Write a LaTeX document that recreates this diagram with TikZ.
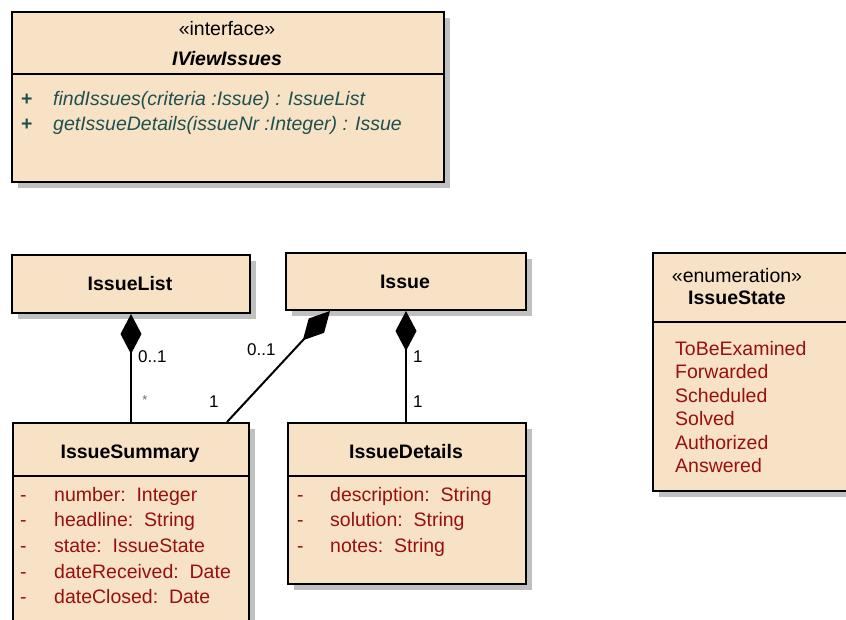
\documentclass[tikz,border=0pt]{standalone}
\usepackage{fontspec}
\setmainfont{Liberation Sans}
\usetikzlibrary{arrows.meta,shadows}
\definecolor{boxfill}{RGB}{248,226,198}
\definecolor{shadowgray}{RGB}{192,192,192}
\definecolor{attrred}{RGB}{150,16,16}
\definecolor{opteal}{RGB}{30,80,80}
\definecolor{stargray}{RGB}{110,110,110}
\tikzset{
  umlbox/.style={draw=black, line width=2pt, fill=boxfill, rectangle, anchor=north west, inner sep=0pt,
    drop shadow={shadow xshift=6pt, shadow yshift=-6pt, fill=shadowgray, opacity=1}},
  divider/.style={draw=black, line width=2pt},
  txt/.style={inner sep=0pt, font=\fontsize{19.5}{23}\selectfont},
  cname/.style={txt, anchor=base, font=\fontsize{19.5}{23}\selectfont\bfseries},
  stereo/.style={txt, anchor=base},
  attr/.style={txt, anchor=base west, text=attrred},
  oper/.style={txt, anchor=base west, text=opteal, font=\fontsize{19.5}{23}\selectfont\itshape},
  opvis/.style={txt, anchor=base west, text=opteal, font=\fontsize{19.5}{23}\selectfont\bfseries},
  mult/.style={inner sep=0pt, anchor=base west, font=\fontsize{17}{20}\selectfont},
  comp/.style={line width=2pt, {Diamond[length=40pt,width=21pt,fill=black]}-},
}
\begin{document}
\begin{tikzpicture}[x=1pt,y=-1pt]
\useasboundingbox (0,0) rectangle (846,619);
\clip (0,0) rectangle (846,619);
\fill[white] (0,0) rectangle (846,619);

% IViewIssues
\node[umlbox, minimum width=432pt, minimum height=170pt] (ivi) at (11,11) {};
\draw[divider] (ivi.west |- 0,74) -- (ivi.east |- 0,74);
\node[stereo] (ivist) at (227,35) {«interface»};
\node[cname, font=\fontsize{19.5}{23}\selectfont\bfseries\itshape] (ivin) at (227,65) {IViewIssues};
\node[opvis] (op1v) at (21,105) {+};
\node[oper] (op1) at (53,105) {findIssues(criteria :Issue) : IssueList};
\node[opvis] (op2v) at (21,130) {+};
\node[oper] (op2) at (53,130) {getIssueDetails(issueNr :Integer) : Issue};

% IssueList
\node[umlbox, minimum width=238pt, minimum height=58pt] (il) at (11,254) {};
\node[cname] (iln) at (130,290) {IssueList};

% Issue
\node[umlbox, minimum width=240pt, minimum height=57pt] (iss) at (285,252) {};
\node[cname] (issn) at (405,288) {Issue};

% IssueSummary
\node[umlbox, minimum width=236pt, minimum height=240pt] (isum) at (12,422) {};
\draw[divider] (isum.west |- 0,476) -- (isum.east |- 0,476);
\node[cname] (isumn) at (130,458) {IssueSummary};
\foreach \y/\t [count=\i] in {501/{number:\ \ Integer},526.7/{headline:\ \ String},552.4/{state:\ \ IssueState},578.1/{dateReceived:\ \ Date},603.8/{dateClosed:\ \ Date}}{
  \node[attr] (isumv\i) at (20,\y) {-};
  \node[attr] (isuma\i) at (54,\y) {\t};
}

% IssueDetails
\node[umlbox, minimum width=238pt, minimum height=161pt] (idt) at (287,422) {};
\draw[divider] (idt.west |- 0,476) -- (idt.east |- 0,476);
\node[cname] (idtn) at (406,458) {IssueDetails};
\foreach \y/\t [count=\i] in {501/{description:\ \ String},526.7/{solution:\ \ String},552.4/{notes:\ \ String}}{
  \node[attr] (idtv\i) at (297,\y) {-};
  \node[attr] (idta\i) at (330,\y) {\t};
}

% IssueState
\node[umlbox, minimum width=230pt, minimum height=238pt] (ist) at (652,252) {};
\draw[divider] (ist.west |- 0,322) -- (ist.east |- 0,322);
\node[stereo] (istst) at (737,282) {«enumeration»};
\node[cname] (istn) at (737,304) {IssueState};
\foreach \y/\t [count=\i] in {355/ToBeExamined,378.5/Forwarded,402/Scheduled,425.5/Solved,449/Authorized,472.5/Answered}{
  \node[attr] (istl\i) at (675,\y) {\t};
}

% connectors
\draw[comp] (il.south) -- (il.south |- isum.north);
\draw[comp] (iss.south) -- (iss.south |- idt.north);
\coordinate (dgA) at ([xshift=45pt]iss.south west);
\coordinate (dgB) at ([xshift=-23pt]isum.north east);
\draw[comp] (dgA) -- (dgB);

% multiplicities
\node[mult] (m1) at (138,362) {0..1};
\node[inner sep=0pt, text=stargray, font=\fontsize{13}{15}\selectfont] (m2) at (145,400) {*};
\node[mult] (m3) at (247,355) {0..1};
\node[mult] (m4) at (209,407) {1};
\node[mult] (m5) at (413,362) {1};
\node[mult] (m6) at (413,407) {1};
\end{tikzpicture}
\end{document}
